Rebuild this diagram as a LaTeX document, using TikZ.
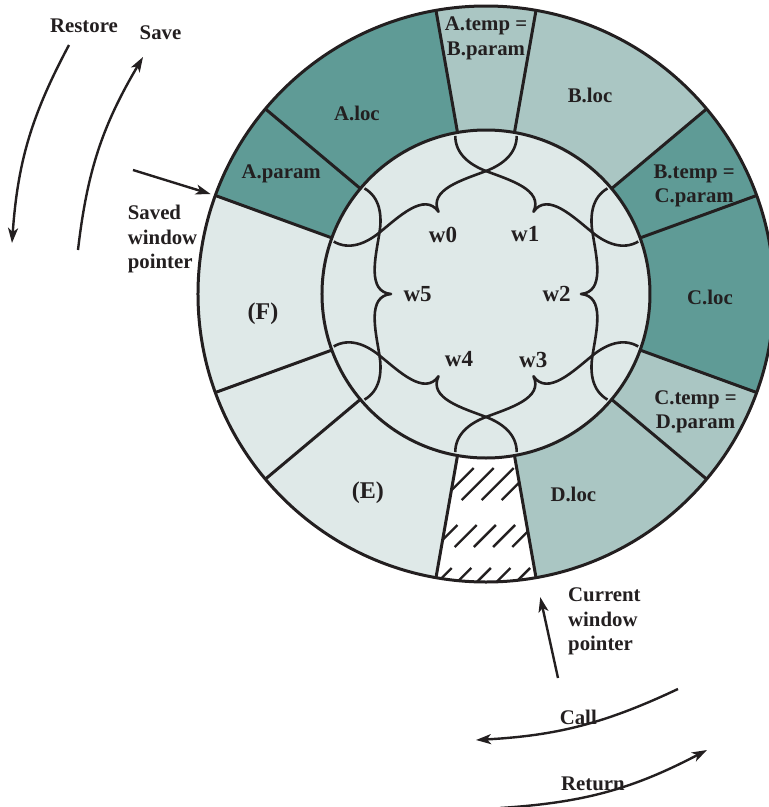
\documentclass[tikz,border=0pt]{standalone}
\usepackage{fontspec}
\setmainfont{Liberation Serif}
\definecolor{tealdark}{HTML}{5F9B96}
\definecolor{tealmid}{HTML}{AAC6C3}
\definecolor{teallight}{HTML}{DFE9E8}
\definecolor{ink}{HTML}{231F20}
\usetikzlibrary{arrows.meta}

\begin{document}
\begin{tikzpicture}[x=1pt, y=1pt, line join=round,
    lbl/.style={font=\fontsize{20.8}{24.5}\selectfont\bfseries, text=ink, align=center, inner sep=0pt},
    wlbl/.style={lbl, font=\fontsize{23}{26}\selectfont\bfseries},
    biglbl/.style={lbl, font=\fontsize{24}{26}\selectfont\bfseries},
    ringline/.style={draw=ink, line width=3pt},
    wire/.style={draw=ink, line width=2.6pt},
    ptr/.style={draw=ink, line width=2.4pt, -{Stealth[length=15pt, width=10pt, inset=4pt]}}]
  \useasboundingbox (-486,-513) rectangle (283,294);
  \clip (-486,-513) rectangle (283,294);
  \coordinate (c) at (0,0);

  % window ring
  \foreach \a/\b/\col in {80/100/tealmid, 40/80/tealmid, 20/40/tealdark, -20/20/tealdark,
      -40/-20/tealmid, -80/-40/tealmid, -100/-80/white, -140/-100/teallight,
      -160/-140/teallight, -200/-160/teallight, -220/-200/tealdark, -260/-220/tealdark}
    \fill[\col] (\a:288) arc[start angle=\a, end angle=\b, radius=288] -- (\b:164)
      arc[start angle=\b, end angle=\a, radius=164] -- cycle;
  \begin{scope}
    \clip (-100:288) arc[start angle=-100, end angle=-80, radius=288] -- (-80:164)
      arc[start angle=-80, end angle=-100, radius=164] -- cycle;
    \foreach \x/\dx/\y/\len in {-44.3/20/-206/32, -50.5/19.2/-253/22, -57.3/19.6/-297/23}
      \foreach \i in {0,...,5}
        \draw[ink, line width=2.4pt] (\x+\i*\dx, \y) -- ++(\len, \len);
  \end{scope}
  \draw[ringline, fill=teallight] (c) circle[radius=164];
  \foreach \a in {20,40,80,100,140,160,200,220,260,280,320,340}
    \draw[ringline] (\a:164) -- (\a:288);
  \draw[ringline] (c) circle[radius=288];

  % overlapping windows
  \foreach \a in {120,60,0,-60,-120,180} {
    \begin{scope}[rotate=\a]
      \draw[wire] (121.5,105.6) .. controls (106.2,96.8) and (103.7,79) .. (106.5,61.5)
        .. controls (110.3,37.3) and (119.4,2.1) .. (95,0)
        .. controls (119.4,-2.1) and (110.3,-37.3) .. (106.5,-61.5)
        .. controls (103.7,-79) and (106.2,-96.8) .. (121.5,-105.6);
    \end{scope}
  }
  \node[wlbl] (w0) at (-43,59.5) {w0};
  \node[wlbl] (w1) at (39.3,59.5) {w1};
  \node[wlbl] (w2) at (70.7,0) {w2};
  \node[wlbl] (w3) at (47.3,-65.5) {w3};
  \node[wlbl] (w4) at (-27,-65.5) {w4};
  \node[wlbl] (w5) at (-68.3,0) {w5};

  \node[lbl] (atmp) at (90:255.5) {A.temp =\\B.param};
  \node[lbl] (bloc) at (62.4:224.5) {B.loc};
  \node[lbl] (btmp) at (27.4:234.5) {B.temp =\\C.param};
  \node[lbl] (cloc) at (-1:224) {C.loc};
  \node[lbl] (ctmp) at (-29.4:240.5) {C.temp =\\D.param};
  \node[lbl] (dloc) at (-66.5:219) {D.loc};
  \node[biglbl] (winE) at (-120.7:231.4) {(E)};
  \node[biglbl] (winF) at (185.1:223.9) {(F)};
  \node[lbl] (aparam) at (149.6:237.5) {A.param};
  \node[lbl] (aloc) at (125.5:222.3) {A.loc};

  % pointers and moves
  \node[lbl] (restore) at (-402,268) {Restore};
  \node[lbl] (save) at (-325.5,261) {Save};
  \node[lbl, align=left, anchor=west] (savedlbl) at (-358.3,55) {Saved\\window\\pointer};
  \node[lbl, align=left, anchor=west] (curlbl) at (82,-327.5) {Current\\window\\pointer};
  \node[lbl] (calllbl) at (92.3,-423.5) {Call};
  \node[lbl] (retlbl) at (107,-490) {Return};

  \coordinate (restoreA) at (-417,249);
  \coordinate (restoreB) at (-474,51);
  \coordinate (saveA) at (-408,44);
  \coordinate (saveB) at (-343,237);
  \coordinate (savedtail) at (-353,124);
  \coordinate (savedptr) at (160:288);
  \coordinate (curtail) at (72,-384);
  \coordinate (curptr) at (-80:288);
  \coordinate (callA) at (192,-395);
  \coordinate (callB) at (-10,-446);
  \coordinate (retA) at (14,-514);
  \coordinate (retB) at (221,-456);
  \draw[ptr] (restoreA) to[bend right=12] (restoreB);
  \draw[ptr] (saveA) to[bend left=12] (saveB);
  \draw[ptr, shorten >=5pt] (savedtail) -- (savedptr);
  \draw[ptr, shorten >=20pt] (curtail) -- (curptr);
  \draw[ptr] (callA) to[bend left=11] (callB);
  \draw[ptr] (retA) to[bend right=12] (retB);
\end{tikzpicture}
\end{document}
